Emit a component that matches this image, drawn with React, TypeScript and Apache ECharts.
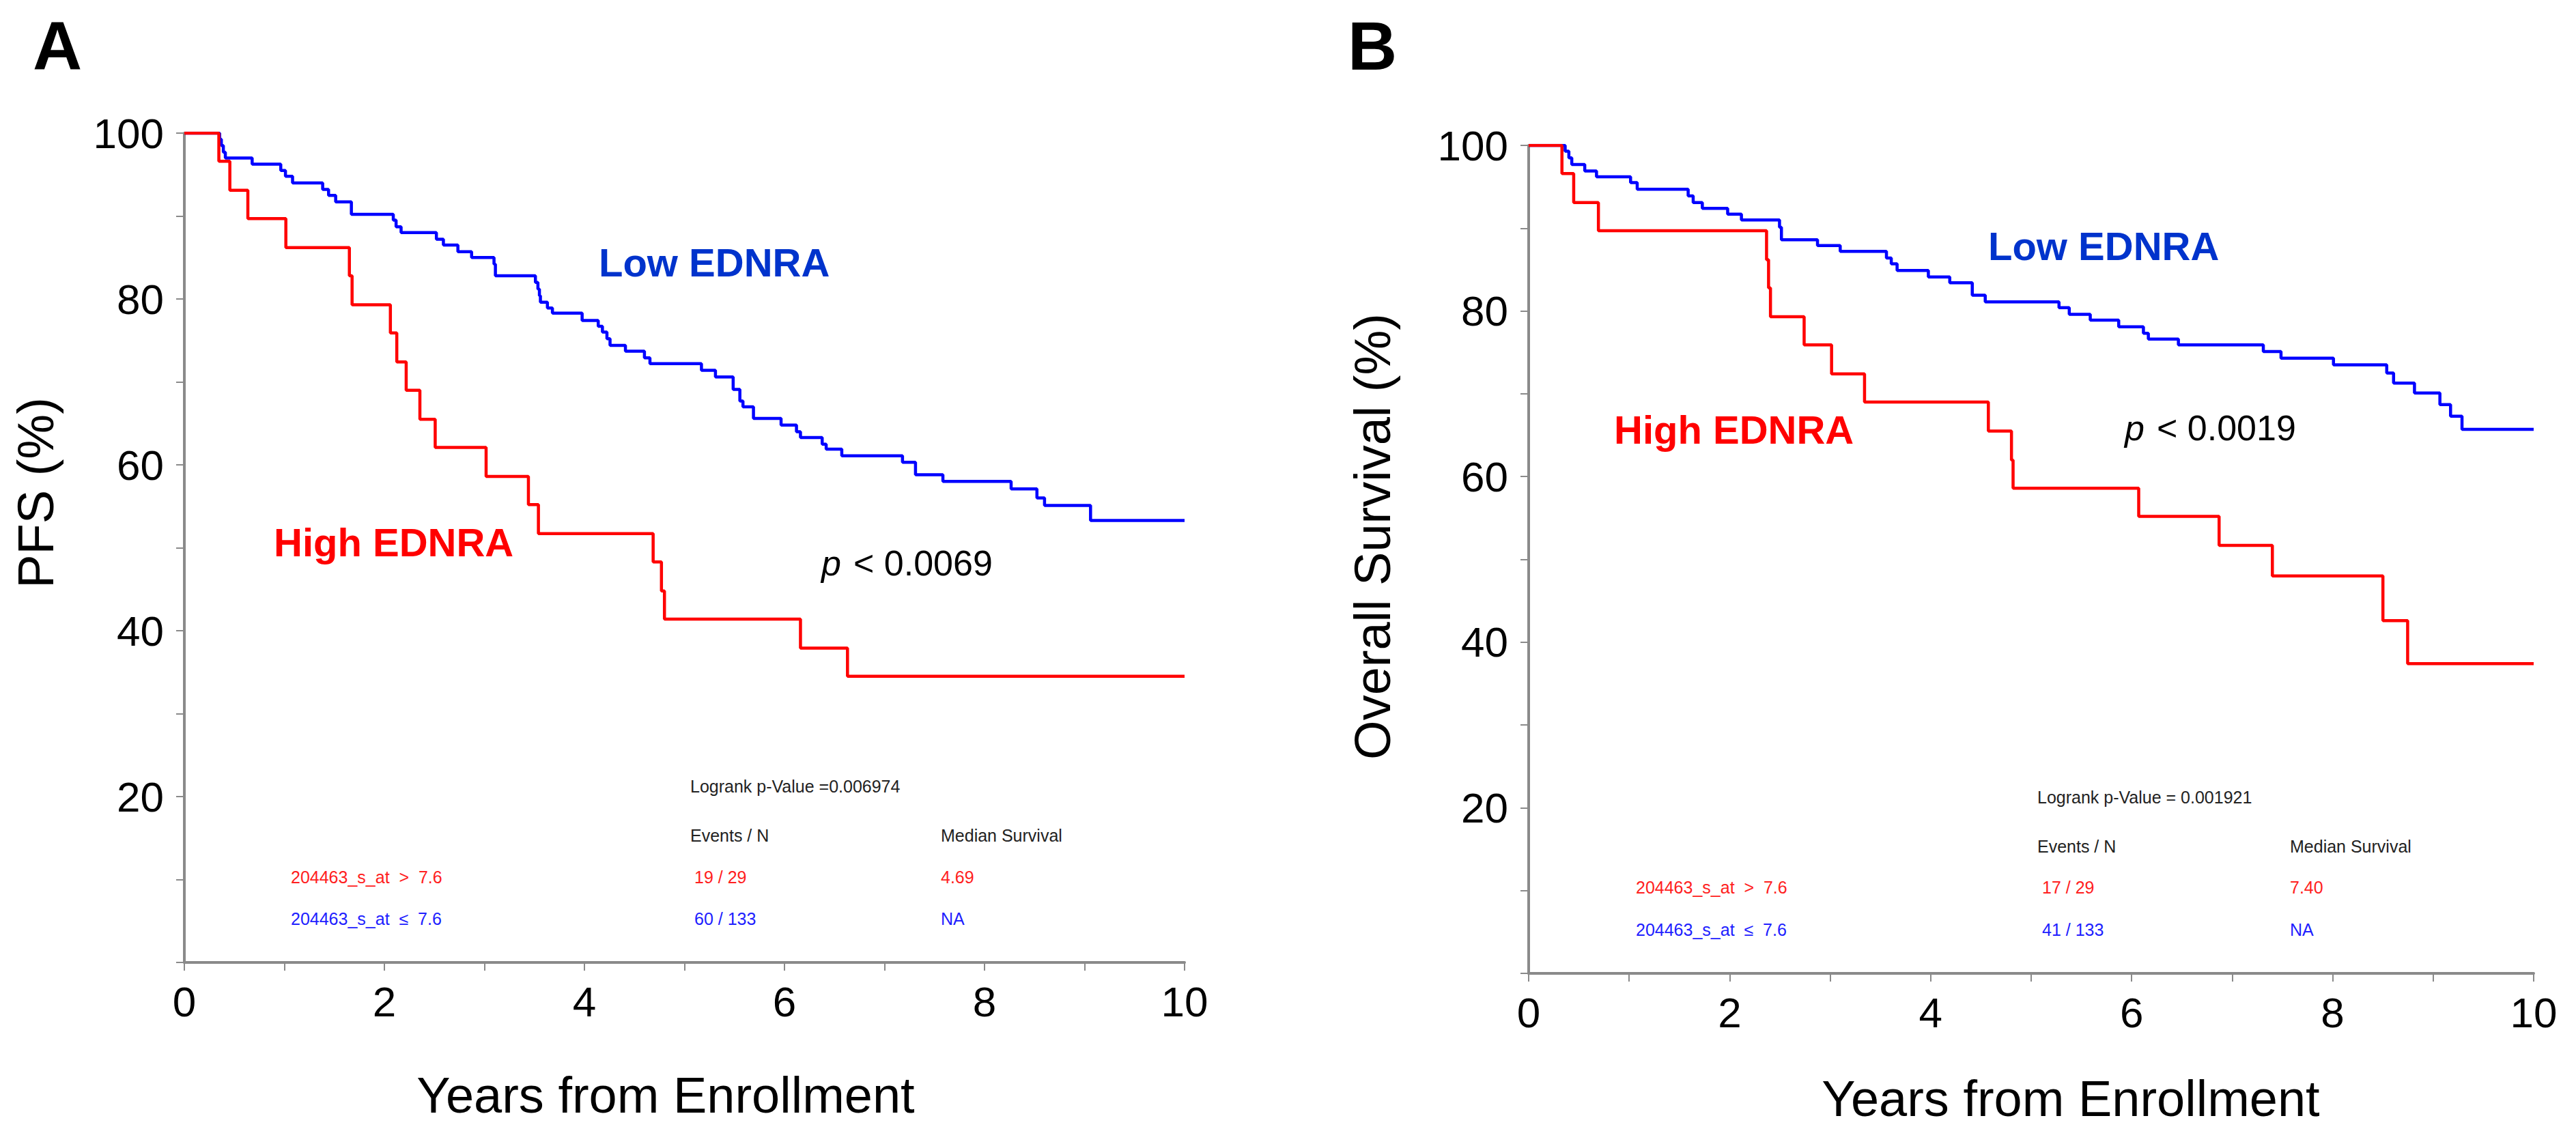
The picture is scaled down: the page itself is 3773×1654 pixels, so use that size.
import React, { useEffect, useRef } from "react";
import * as echarts from "echarts";

// ---------- data ----------
const xTickLabels = [0, 2, 4, 6, 8, 10];
const yTickLabels = [20, 40, 60, 80, 100];

// Panel A: PFS
const pfsHighTimes = [0, 0.345, 0.455, 0.635, 1.015, 1.65, 1.677, 2.06, 2.124, 2.218, 2.355, 2.508, 3.017, 3.44, 3.54, 4.687, 4.77, 4.8, 6.16, 6.63, 10];
const pfsHighValues = [100, 96.6, 93.1, 89.7, 86.2, 82.8, 79.3, 75.9, 72.4, 69.0, 65.5, 62.1, 58.6, 55.2, 51.7, 48.3, 44.8, 41.4, 37.9, 34.5, 34.5];

const pfsLowTimes = [0, 0.353, 0.37, 0.39, 0.41, 0.678, 0.964, 1.011, 1.082, 1.383, 1.442, 1.513, 1.67, 2.089, 2.117, 2.167, 2.52, 2.59, 2.735, 2.872, 3.096, 3.11, 3.51, 3.535, 3.55, 3.56, 3.63, 3.68, 3.977, 4.138, 4.18, 4.225, 4.256, 4.41, 4.6, 4.655, 5.17, 5.31, 5.487, 5.554, 5.585, 5.69, 5.966, 6.12, 6.16, 6.377, 6.417, 6.573, 7.18, 7.31, 7.584, 8.266, 8.524, 8.6, 9.06, 10];
const pfsLowValues = [100, 99.25, 98.5, 97.7, 97.0, 96.25, 95.5, 94.8, 94.0, 93.2, 92.5, 91.7, 90.2, 89.5, 88.7, 88.0, 87.2, 86.5, 85.7, 85.0, 84.2, 82.8, 82.0, 81.2, 80.4, 79.6, 78.9, 78.3, 77.4, 76.7, 76.0, 75.2, 74.4, 73.7, 72.9, 72.2, 71.4, 70.6, 69.1, 67.7, 67.0, 65.6, 64.8, 64.0, 63.3, 62.5, 61.9, 61.1, 60.3, 58.8, 58.0, 57.1, 56.0, 55.1, 53.3, 53.3];

// Panel B: Overall survival
const osHighTimes = [0, 0.331, 0.448, 0.694, 2.367, 2.387, 2.406, 2.741, 3.014, 3.342, 4.574, 4.804, 4.82, 6.07, 6.87, 7.4, 8.5, 8.746, 10];
const osHighValues = [100, 96.6, 93.1, 89.7, 86.2, 82.8, 79.3, 75.9, 72.4, 69.0, 65.5, 62.0, 58.6, 55.2, 51.7, 48.0, 42.6, 37.4, 37.4];

const osLowTimes = [0, 0.363, 0.4, 0.429, 0.558, 0.675, 1.014, 1.08, 1.587, 1.637, 1.728, 1.98, 2.117, 2.496, 2.515, 2.874, 3.1, 3.56, 3.608, 3.666, 3.977, 4.19, 4.414, 4.543, 5.277, 5.379, 5.588, 5.871, 6.117, 6.166, 6.465, 7.31, 7.486, 8.008, 8.538, 8.606, 8.814, 9.067, 9.173, 9.287, 10];
const osLowValues = [100, 99.3, 98.5, 97.7, 96.9, 96.2, 95.5, 94.7, 93.9, 93.1, 92.4, 91.7, 91.0, 90.1, 88.6, 87.9, 87.2, 86.4, 85.7, 84.9, 84.1, 83.4, 81.9, 81.1, 80.4, 79.6, 78.9, 78.1, 77.3, 76.6, 75.9, 75.1, 74.3, 73.5, 72.5, 71.3, 70.1, 68.7, 67.3, 65.7, 65.7];

const panelLetters = ["A", "B"];
const yAxisTitles = ["PFS (%)", "Overall Survival (%)"];
const xAxisTitle = "Years from Enrollment";
const groupLabels = ["High EDNRA", "Low EDNRA"];
const pTexts = ["< 0.0069", "< 0.0019"];
const logrankTexts = ["Logrank p-Value =0.006974", "Logrank p-Value = 0.001921"];
const tableHeaders = ["Events / N", "Median Survival"];
const rowLabels = ["204463_s_at \u00a0>\u00a0 7.6", "204463_s_at \u00a0\u2264\u00a0 7.6"];
const eventsA = ["19 / 29", "60 / 133"];
const eventsB = ["17 / 29", "41 / 133"];
const medianA = ["4.69", "NA"];
const medianB = ["7.40", "NA"];

const zip = (t: number[], v: number[]) => t.map((x, i) => [x, v[i]]);

const FONT = "'Liberation Sans', Arial, sans-serif";
const RED = "#ff0000";
const BLUE = "#0000ff";
const LABEL_BLUE = "#0033cc";
const AXIS_GRAY = "#8a8a8a";

function axisPair(idx: number) {
  const xAxis = {
    type: "value",
    gridIndex: idx,
    min: 0,
    max: 10,
    interval: 1,
    axisLine: { show: true, onZero: false, lineStyle: { color: AXIS_GRAY, width: 4 } },
    axisTick: { show: true, inside: false, length: 12, lineStyle: { color: AXIS_GRAY, width: 2 } },
    splitLine: { show: false },
    axisLabel: {
      show: true,
      margin: 26,
      fontSize: 62,
      fontFamily: FONT,
      color: "#000",
      formatter: (v: number) => (xTickLabels.includes(v) ? String(v) : ""),
    },
  };
  const yAxis = {
    type: "value",
    gridIndex: idx,
    min: 0,
    max: 100,
    interval: 10,
    axisLine: { show: true, onZero: false, lineStyle: { color: AXIS_GRAY, width: 4 } },
    axisTick: { show: true, inside: false, length: 12, lineStyle: { color: AXIS_GRAY, width: 2 } },
    splitLine: { show: false },
    axisLabel: {
      show: true,
      margin: 30,
      fontSize: 62,
      fontFamily: FONT,
      color: "#000",
      formatter: (v: number) => (yTickLabels.includes(v) ? String(v) : ""),
    },
  };
  return { xAxis, yAxis };
}

function txt(x: number, y: number, text: string, fontSize: number, fill: string, extra: any = {}) {
  return {
    type: "text",
    x,
    y,
    silent: true,
    style: {
      text,
      fontSize,
      fontFamily: FONT,
      fill,
      align: "left",
      verticalAlign: "middle",
      ...extra,
    },
  };
}

export default function App() {
  const ref = useRef<HTMLDivElement>(null);

  useEffect(() => {
    if (!ref.current) return;
    const chart = echarts.init(ref.current, null, { renderer: "svg" });
    const a = axisPair(0);
    const b = axisPair(1);

    const lineSeries = (xi: number, data: number[][], color: string) => ({
      type: "line",
      step: "end",
      xAxisIndex: xi,
      yAxisIndex: xi,
      data,
      symbol: "none",
      showSymbol: false,
      lineStyle: { color, width: 4.5 },
      silent: true,
    });

    const smallBlack = "#222222";
    const smallRed = "#ff2020";
    const smallBlue = "#2020ff";

    const graphic: any[] = [
      // panel letters
      txt(48, 67, panelLetters[0], 100, "#000", { fontWeight: "bold" }),
      txt(1974, 67, panelLetters[1], 100, "#000", { fontWeight: "bold" }),
      // y axis titles
      {
        type: "text",
        x: 52,
        y: 722,
        rotation: Math.PI / 2,
        silent: true,
        style: { text: yAxisTitles[0], fontSize: 74, fontFamily: FONT, fill: "#000", align: "center", verticalAlign: "middle" },
      },
      {
        type: "text",
        x: 2010,
        y: 786,
        rotation: Math.PI / 2,
        silent: true,
        style: { text: yAxisTitles[1], fontSize: 74, fontFamily: FONT, fill: "#000", align: "center", verticalAlign: "middle" },
      },
      // x axis titles
      txt(975, 1604, xAxisTitle, 74, "#000", { align: "center" }),
      txt(3033, 1609, xAxisTitle, 74, "#000", { align: "center" }),
      // group labels A
      txt(877, 384, groupLabels[1], 58, LABEL_BLUE, { fontWeight: "bold" }),
      txt(401, 794, groupLabels[0], 58, RED, { fontWeight: "bold" }),
      // p value A
      txt(1203, 825, "p", 52, "#000", { fontStyle: "italic" }),
      txt(1250, 825, pTexts[0], 52, "#000"),
      // group labels B
      txt(2912, 360, groupLabels[1], 58, LABEL_BLUE, { fontWeight: "bold" }),
      txt(2364, 629, groupLabels[0], 58, RED, { fontWeight: "bold" }),
      // p value B
      txt(3112, 627, "p", 52, "#000", { fontStyle: "italic" }),
      txt(3159, 627, pTexts[1], 52, "#000"),
      // table A
      txt(1011, 1152, logrankTexts[0], 25, smallBlack),
      txt(1011, 1224, tableHeaders[0], 25, smallBlack),
      txt(1378, 1224, tableHeaders[1], 25, smallBlack),
      txt(426, 1285, rowLabels[0], 25, smallRed),
      txt(1017, 1285, eventsA[0], 25, smallRed),
      txt(1378, 1285, medianA[0], 25, smallRed),
      txt(426, 1346, rowLabels[1], 25, smallBlue),
      txt(1017, 1346, eventsA[1], 25, smallBlue),
      txt(1378, 1346, medianA[1], 25, smallBlue),
      // table B
      txt(2984, 1168, logrankTexts[1], 25, smallBlack),
      txt(2984, 1240, tableHeaders[0], 25, smallBlack),
      txt(3354, 1240, tableHeaders[1], 25, smallBlack),
      txt(2396, 1300, rowLabels[0], 25, smallRed),
      txt(2991, 1300, eventsB[0], 25, smallRed),
      txt(3354, 1300, medianB[0], 25, smallRed),
      txt(2396, 1362, rowLabels[1], 25, smallBlue),
      txt(2991, 1362, eventsB[1], 25, smallBlue),
      txt(3354, 1362, medianB[1], 25, smallBlue),
    ];

    chart.setOption({
      animation: false,
      backgroundColor: "#ffffff",
      grid: [
        { left: 270, top: 195, width: 1465, height: 1215, containLabel: false },
        { left: 2239, top: 213, width: 1472, height: 1213, containLabel: false },
      ],
      xAxis: [a.xAxis, b.xAxis],
      yAxis: [a.yAxis, b.yAxis],
      series: [
        lineSeries(0, zip(pfsLowTimes, pfsLowValues), BLUE),
        lineSeries(0, zip(pfsHighTimes, pfsHighValues), RED),
        lineSeries(1, zip(osLowTimes, osLowValues), BLUE),
        lineSeries(1, zip(osHighTimes, osHighValues), RED),
      ],
      graphic,
    });

    return () => chart.dispose();
  }, []);

  return (
    <div
      ref={ref}
      style={{ position: "absolute", left: 0, top: 0, width: 3773, height: 1654, background: "#fff" }}
    />
  );
}
